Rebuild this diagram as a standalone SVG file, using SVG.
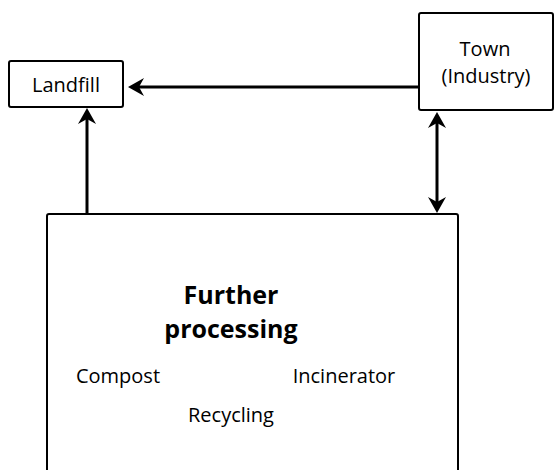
<svg xmlns="http://www.w3.org/2000/svg" width="554" height="470" viewBox="0 0 554 470">
<style>
.box{fill:#fff;stroke:#000;stroke-width:2}
.t{font-family:"Open Sans","Noto Sans",sans-serif;font-size:20px;fill:#000;text-anchor:middle}
.b{font-family:"Open Sans","Noto Sans",sans-serif;font-size:25px;font-weight:bold;fill:#000;text-anchor:middle}
.c{stroke:#000;stroke-width:3;fill:none}
</style>
<defs>
<marker id="ah" viewBox="0 0 16 18" refX="5" refY="9" markerWidth="16" markerHeight="18" markerUnits="userSpaceOnUse" orient="auto-start-reverse">
<path d="M0,0 L16,9 L0,18 L5,9 z" fill="#000"/>
</marker>
</defs>
<rect width="554" height="470" fill="#fff"/>
<g id="connectors">
<line class="c" x1="419" y1="87" x2="139" y2="87" marker-end="url(#ah)"/>
<line class="c" x1="87" y1="214" x2="87" y2="119" marker-end="url(#ah)"/>
<line class="c" x1="437" y1="123" x2="437" y2="202" marker-start="url(#ah)" marker-end="url(#ah)"/>
</g>
<g id="landfill">
<rect class="box" x="9" y="61" width="114" height="46" rx="2"/>
<text class="t" x="66" y="92">Landfill</text>
</g>
<g id="town">
<rect class="box" x="419" y="13" width="134" height="97" rx="2"/>
<text class="t" x="485" y="56">Town</text>
<text class="t" x="486" y="83">(Industry)</text>
</g>
<g id="processing">
<rect class="box" x="47" y="214" width="411" height="270" rx="2"/>
<text class="b" x="231" y="304">Further</text>
<text class="b" x="231" y="338">processing</text>
<text class="t" x="118" y="383">Compost</text>
<text class="t" x="344" y="383">Incinerator</text>
<text class="t" x="231" y="422">Recycling</text>
</g>
</svg>
